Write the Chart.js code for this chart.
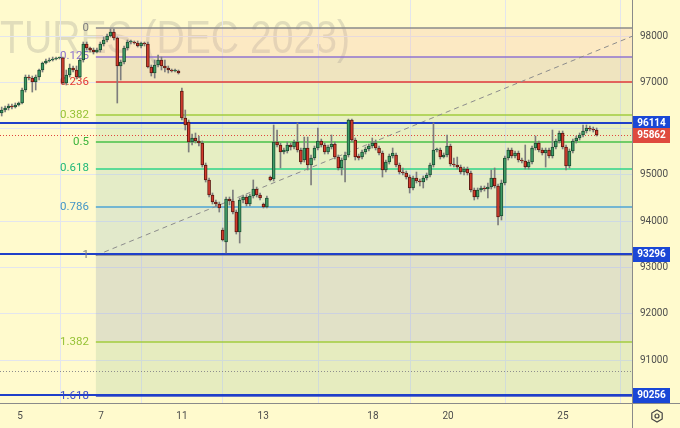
<!DOCTYPE html>
<html><head><meta charset="utf-8">
<script src="https://cdn.jsdelivr.net/npm/chart.js@4.4.0/dist/chart.umd.min.js"></script>
<style>html,body{margin:0;padding:0;background:#fffacd;overflow:hidden}canvas{display:block}</style>
</head><body><canvas id="c" width="680" height="428"></canvas>
<script>
const opens=[96337,96402,96445,96488,96466,96510,96553,96834,97114,97093,97006,97114,97266,97417,97460,97482,97503,97525,97530,96985,97158,97309,97266,97114,97482,97827,97741,97698,97654,97698,97827,97914,98000,98087,97957,97352,97438,97741,97870,97870,97849,97784,97849,97827,97330,97201,97374,97482,97352,97309,97266,97244,97244,96812,96229,96142,95710,95797,95732,95689,95214,94890,94566,94414,94371,93810,93551,94479,94436,94198,93766,94458,94522,94371,94544,94695,94566,94371,94306,94954,94911,95710,95646,95494,95516,95646,95602,95710,95538,95322,95581,95214,95365,95581,95732,95646,95494,95602,95667,95386,95149,95322,95430,96186,95754,95408,95386,95494,95560,95624,95689,95581,95473,95106,95278,95408,95430,95214,95062,95041,94954,94717,94933,94868,94846,94933,94998,95214,95538,95538,95386,95430,95624,95235,95214,95170,95062,95127,95041,94674,94522,94674,94717,94695,94738,94933,94760,94112,94825,95365,95538,95408,95473,95322,95300,95170,95278,95581,95689,95538,95473,95538,95408,95602,95732,95905,95602,95192,95516,95732,95797,95862,95948,96013,95991,95970];
const highs=[96466,96488,96531,96531,96553,96574,96877,97158,97158,97136,97158,97287,97438,97503,97525,97546,97546,97546,97546,97266,97395,97352,97352,97525,97870,97870,97762,97741,97741,97870,97979,98044,98152,98152,97979,97482,97784,97914,97914,97892,97892,97870,97870,97870,97374,97482,97590,97546,97482,97352,97287,97287,97266,96877,96402,96186,95883,95905,95840,95732,95257,94933,94609,94458,94414,93853,94522,94522,94674,94242,94501,94566,94566,94587,94890,94738,94609,94393,94544,94976,96078,95970,95689,95581,95710,95689,95754,96121,95581,95818,95818,95430,95624,96013,95775,95689,95646,95862,95710,95430,95365,95494,96206,96206,95797,95451,95538,95602,95667,95797,95754,95624,95516,95322,95451,95581,95473,95257,95149,95084,94998,94976,95062,94911,94976,95041,95257,96121,95581,95581,95473,95862,95667,95365,95386,95214,95170,95170,95084,94717,94717,94760,94760,94825,95106,95149,94803,94890,95408,95581,95581,95516,95516,95365,95646,95322,95624,95840,95732,95581,95581,95581,95970,95775,95948,95948,95646,95560,95775,95840,95905,96078,96078,96056,96034,96013];
const lows=[96272,96358,96402,96423,96445,96488,96531,96790,97050,96790,96834,97050,97222,97395,97438,97460,97482,97503,96962,96942,97114,97222,97071,97093,97438,97698,97654,97611,97633,97654,97784,97870,97979,97914,96553,97050,97395,97698,97827,97827,97762,97741,97784,97309,97136,97093,97330,97266,97222,97201,97222,97222,97179,96186,95970,95494,95646,95689,95624,95170,94846,94522,94371,94328,94198,93572,93313,94350,94155,93723,93529,94393,94328,94328,94501,94522,94458,94285,94285,94868,94868,95602,95149,95451,95473,95538,95560,95494,95235,95278,95106,94782,95322,95538,95602,95451,95451,95560,95343,95106,94998,94846,95386,95710,95322,95322,95343,95451,95516,95581,95538,95430,94954,95062,95235,95365,95170,95019,94998,94911,94609,94674,94825,94760,94717,94890,94954,95170,95494,95343,95365,95386,95192,95170,95127,95019,94998,94998,94630,94458,94479,94630,94652,94501,94695,94717,93918,94026,94782,95322,95365,95365,95278,95257,95127,95127,95235,95538,95494,95430,95170,95365,95365,95560,95689,95560,95106,95149,95473,95689,95754,95818,95905,95948,95926,95840];
const closes=[96402,96445,96488,96466,96510,96553,96834,97114,97093,97006,97114,97266,97417,97460,97482,97503,97525,97530,96985,97158,97309,97266,97114,97482,97827,97741,97698,97654,97698,97827,97914,98000,98087,97957,97352,97438,97741,97870,97892,97849,97784,97849,97827,97330,97201,97374,97482,97352,97309,97266,97244,97266,97201,96229,96078,95710,95797,95732,95689,95214,94890,94566,94414,94371,94285,93594,94479,94436,94198,93766,94458,94522,94371,94544,94695,94566,94501,94306,94501,94890,95710,95646,95494,95538,95646,95602,95710,95538,95278,95581,95214,95365,95581,95732,95646,95494,95602,95667,95386,95149,95322,95430,96186,95754,95386,95365,95494,95560,95624,95689,95581,95473,95106,95278,95408,95473,95214,95062,95041,94954,94717,94933,94868,94846,94933,94998,95214,95538,95560,95386,95430,95624,95235,95214,95170,95062,95127,95041,94674,94522,94674,94717,94695,94738,94933,94760,94090,94825,95365,95538,95408,95473,95322,95300,95170,95278,95581,95689,95538,95473,95538,95408,95602,95732,95905,95602,95192,95516,95732,95797,95862,95948,96013,95991,95970,95862];

const dayTickIdx=[5.4,29.2,53,76.9,109.2,131.3,165.1];
const dayTickLabels=['5','7','11','13','18','20','25'];
const priceTicks=[91000,92000,93000,94000,95000,96000,97000,98000];
const xMin=-0.5, xMax=185.4, yMin=90073, yMax=98778;

const fibHigh=98170, fibLow=93260;
const fibStartIdx=27.7, fibEndIdx=191.3;
const fibRatios=[0,0.125,0.236,0.382,0.5,0.618,0.786,1,1.382,1.618];
const fibLabels=['0','0.125','0.236','0.382','0.5','0.618','0.786','1','1.382','1.618'];
const fibLineColors=['#8a8a8a','#9275d0','#e23a36','#a2cc3e','#48c048','#2ed488','#4ea4d4','#8a8a8a','#a2cc3e','#3347c8'];
const fibTextColors=['#7d7d7d','#8a70cc','#e23a36','#96c236','#3cb43c','#20b878','#4496c6','#7d7d7d','#96c236','#3347c8'];
const fibZoneColors=['rgba(243,182,169,0.25)','rgba(191,162,153,0.25)','rgba(179,210,153,0.25)','rgba(163,206,161,0.25)','rgba(155,202,169,0.25)','rgba(147,194,185,0.25)','rgba(139,182,201,0.25)','rgba(135,150,185,0.25)','rgba(155,194,153,0.25)'];

const blueLevels=[96114,93296,90256];
const lastPrice=95862;
const dottedLevel=90765;
const watermark='FUTURES (DEC 2023)';
const watermarkVisible='TURES (DEC 2023)';

const idx=opens.map((_,i)=>i);
const up=i=>closes[i]>=opens[i];
const FONT='Roboto, "Liberation Sans", Arial, sans-serif';

const overlay={
  id:'overlay',
  beforeDraw(chart){
    const c=chart.ctx, a=chart.chartArea;
    c.save();
    c.fillStyle='#fffacd';
    c.fillRect(0,0,chart.width,chart.height);
    c.beginPath();c.rect(a.left,a.top,a.right-a.left,a.bottom-a.top);c.clip();
    c.font='46px "Liberation Sans", Arial, sans-serif';
    const w=c.measureText(watermarkVisible).width;
    const sx=350/w;
    c.translate(350,53);c.scale(sx,1);
    c.textAlign='right';c.textBaseline='alphabetic';
    c.fillStyle='rgba(130,130,130,0.24)';
    c.fillText(watermark,0,0);
    c.restore();
  },
  beforeDatasetsDraw(chart){
    const c=chart.ctx, a=chart.chartArea, xs=chart.scales.x, ys=chart.scales.y;
    const fx=xs.getPixelForValue(fibStartIdx);
    const lv=fibRatios.map(r=>fibHigh-r*(fibHigh-fibLow));
    c.save();
    c.beginPath();c.rect(a.left,a.top,a.right-a.left,a.bottom-a.top);c.clip();
    for(let k=0;k<fibZoneColors.length;k++){
      const y1=ys.getPixelForValue(lv[k]), y2=ys.getPixelForValue(lv[k+1]);
      c.fillStyle=fibZoneColors[k];
      c.fillRect(fx,y1,a.right-fx,y2-y1);
    }
    c.setLineDash([1,2]);c.lineWidth=1;c.strokeStyle='#8e8e8e';
    let y=Math.round(ys.getPixelForValue(dottedLevel))+0.5;
    c.beginPath();c.moveTo(a.left,y);c.lineTo(a.right,y);c.stroke();
    c.setLineDash([]);
    for(let k=0;k<lv.length;k++){
      const yy=Math.round(ys.getPixelForValue(lv[k]));
      c.strokeStyle=fibLineColors[k];c.lineWidth=1.5;
      c.beginPath();c.moveTo(fx,yy);c.lineTo(a.right,yy);c.stroke();
    }
    c.setLineDash([5,4]);c.strokeStyle='#8c8c8c';c.lineWidth=1;
    c.beginPath();
    c.moveTo(fx,ys.getPixelForValue(fibLow));
    c.lineTo(xs.getPixelForValue(fibEndIdx),ys.getPixelForValue(fibHigh));
    c.stroke();
    c.setLineDash([]);c.strokeStyle='#1f3fc9';c.lineWidth=2;
    blueLevels.forEach(v=>{const yy=Math.round(ys.getPixelForValue(v));c.beginPath();c.moveTo(a.left,yy);c.lineTo(a.right,yy);c.stroke();});
    c.setLineDash([1,2]);c.strokeStyle='#e0463c';c.lineWidth=1;
    y=Math.round(ys.getPixelForValue(lastPrice))+0.5;
    c.beginPath();c.moveTo(a.left,y);c.lineTo(a.right,y);c.stroke();
    c.setLineDash([]);
    c.font='11.5px '+FONT;c.textAlign='right';c.textBaseline='middle';
    for(let k=0;k<lv.length;k++){
      c.fillStyle=fibTextColors[k];
      c.fillText(fibLabels[k],fx-7,ys.getPixelForValue(lv[k]));
    }
    c.restore();
  },
  afterDraw(chart){
    const c=chart.ctx, a=chart.chartArea, ys=chart.scales.y;
    c.save();
    c.strokeStyle='#8a8a8a';c.lineWidth=1;
    c.beginPath();c.moveTo(a.right+0.5,0);c.lineTo(a.right+0.5,chart.height);c.stroke();
    c.beginPath();c.moveTo(0,a.bottom+0.5);c.lineTo(chart.width,a.bottom+0.5);c.stroke();
    const badge=(v,col)=>{
      const yy=ys.getPixelForValue(v);
      c.fillStyle=col;
      c.fillRect(a.right+1,Math.round(yy)-7,37,15);
      c.fillStyle='#ffffff';c.font='bold 10px '+FONT;c.textAlign='center';c.textBaseline='middle';
      c.fillText(String(v),a.right+19.5,Math.round(yy)+0.5);
    };
    badge(blueLevels[0],'#1a47d6');
    badge(lastPrice,'#df4a3e');
    badge(blueLevels[1],'#1a47d6');
    badge(blueLevels[2],'#1a47d6');
    const gx=657,gy=416,r=6;
    c.strokeStyle='#444';c.lineWidth=1.2;
    c.beginPath();
    for(let k=0;k<6;k++){const ang=Math.PI/6+k*Math.PI/3;const px=gx+r*Math.cos(ang),py=gy+r*Math.sin(ang);k?c.lineTo(px,py):c.moveTo(px,py);}
    c.closePath();c.stroke();
    c.beginPath();c.arc(gx,gy,2,0,Math.PI*2);c.stroke();
    c.restore();
  }
};

new Chart(document.getElementById('c'),{
  type:'bar',
  data:{datasets:[
    {data:idx.map(i=>({x:i,y:[opens[i],closes[i]]})),
     backgroundColor:ctx=>up(ctx.dataIndex)?'#3f9c66':'#d23b2d',
     borderColor:ctx=>up(ctx.dataIndex)?'#1c4f33':'#5e1810',
     borderWidth:1,borderSkipped:false,barThickness:3,grouped:false,minBarLength:1,order:1},
    {data:idx.map(i=>({x:i,y:[lows[i],highs[i]]})),
     backgroundColor:'#7d7d7d',borderWidth:0,barThickness:1,grouped:false,order:2}
  ]},
  options:{
    responsive:false,animation:false,events:[],
    layout:{padding:0},
    plugins:{legend:{display:false},tooltip:{enabled:false}},
    scales:{
      x:{type:'linear',min:xMin,max:xMax,offset:false,
        afterBuildTicks:s=>{s.ticks=dayTickIdx.map(v=>({value:v}));},
        afterFit:s=>{s.height=25;s.paddingLeft=0;s.paddingRight=0;},
        ticks:{autoSkip:false,maxRotation:0,padding:7,color:'#4d4d4d',font:{size:10,family:FONT},callback:(v,i)=>dayTickLabels[i]},
        grid:{color:'#e3e5ee',drawTicks:false},
        border:{display:false}},
      y:{type:'linear',position:'right',min:yMin,max:yMax,
        afterBuildTicks:s=>{s.ticks=priceTicks.map(v=>({value:v}));},
        afterFit:s=>{s.width=48;s.paddingTop=0;s.paddingBottom=0;},
        ticks:{padding:8,color:'#4d4d4d',font:{size:10,family:FONT},callback:v=>String(v)},
        grid:{color:'#e3e5ee',drawTicks:false},
        border:{display:false}}
    }
  },
  plugins:[overlay]
});
</script></body></html>
